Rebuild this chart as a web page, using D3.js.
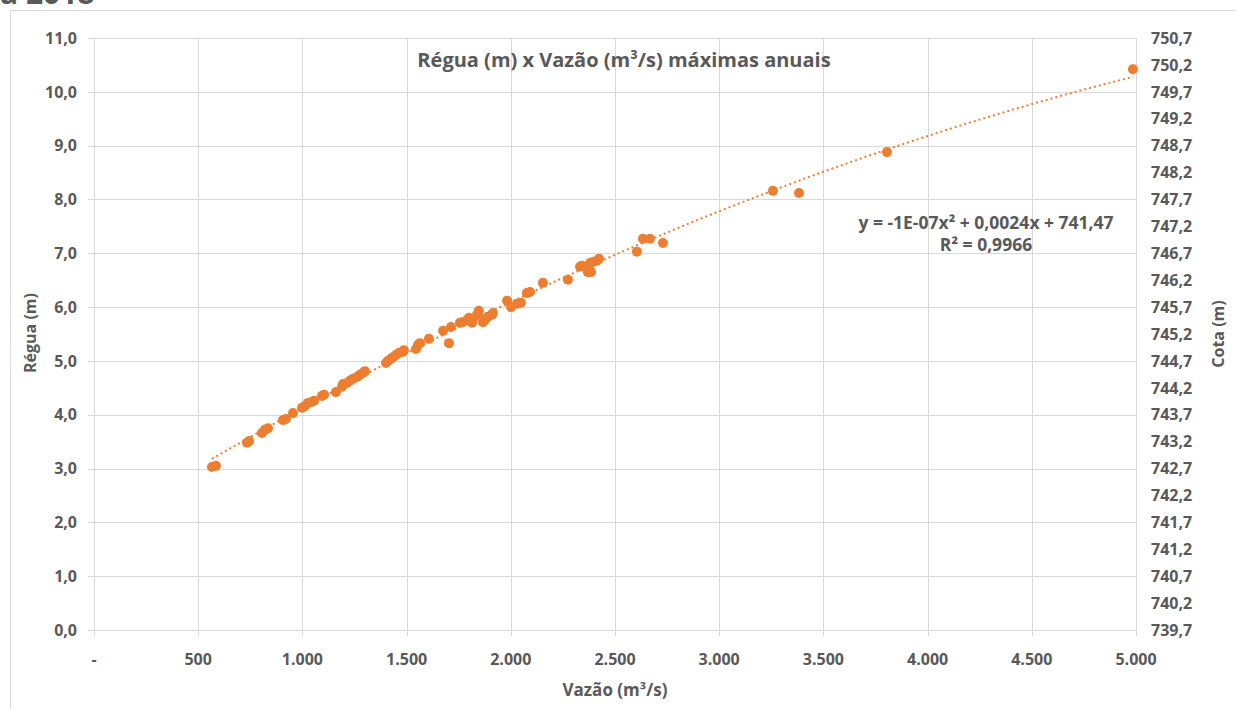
<!DOCTYPE html>
<html>
<head>
<meta charset="utf-8">
<script src="https://cdn.jsdelivr.net/npm/d3@7"></script>
<style>
  body { margin: 0; background: #fff; }
  text { font-family: "Open Sans", sans-serif; fill: #595959; font-weight: 700; }
</style>
</head>
<body>
<div id="chart"></div>
<script>
// data (vazão in m³/s, régua in m)
const vazao = [566, 585, 734, 744, 806, 820, 835, 907, 921, 955, 998, 1012, 1027, 1046, 1056, 1094, 1104, 1161,
  1190, 1195, 1214, 1228, 1243, 1262, 1276, 1291, 1300, 1401, 1411, 1425, 1435, 1449, 1464, 1483, 1487, 1545,
  1555, 1564, 1607, 1675, 1713, 1703, 1756, 1770, 1790, 1799, 1814, 1818, 1838, 1847, 1866, 1876, 1890, 1910,
  1914, 1982, 2001, 2030, 2049, 2077, 2092, 2154, 2274, 2332, 2341, 2370, 2385, 2380, 2394, 2413, 2423, 2605,
  2634, 2668, 2730, 3258, 3383, 3805, 4985];
const regua = [3.03, 3.05, 3.48, 3.51, 3.66, 3.72, 3.75, 3.90, 3.92, 4.03, 4.13, 4.16, 4.22, 4.24, 4.26, 4.35, 4.37, 4.42,
  4.52, 4.57, 4.59, 4.63, 4.67, 4.70, 4.74, 4.78, 4.81, 4.96, 5.00, 5.04, 5.07, 5.11, 5.15, 5.17, 5.20, 5.22,
  5.30, 5.33, 5.41, 5.56, 5.63, 5.33, 5.71, 5.72, 5.76, 5.80, 5.71, 5.78, 5.86, 5.93, 5.72, 5.76, 5.82, 5.86,
  5.89, 6.12, 6.00, 6.06, 6.08, 6.26, 6.28, 6.45, 6.51, 6.75, 6.77, 6.65, 6.65, 6.82, 6.84, 6.86, 6.90, 7.03,
  7.27, 7.27, 7.19, 8.16, 8.12, 8.88, 10.42];

const xTicks = [0, 500, 1000, 1500, 2000, 2500, 3000, 3500, 4000, 4500, 5000];
const yTicks = [0, 1, 2, 3, 4, 5, 6, 7, 8, 9, 10, 11];
const cotaOffset = 739.7; // cota = régua + 739,7
const cotaTicks = d3.range(0, 23).map(i => +(739.7 + i * 0.5).toFixed(1));

const titleText = "Régua (m) x Vazão (m³/s) máximas anuais";
const equationText = "y = -1E-07x² + 0,0024x + 741,47";
const r2Text = "R² = 0,9966";

const W = 1236, H = 709;
const plot = { left: 94, right: 1136, top: 38, bottom: 630 };
const grid = "#d9d9d9";
const orange = "#ed7d31";

const svg = d3.select("#chart").append("svg")
  .attr("width", W)
  .attr("height", H);

svg.append("rect").attr("width", W).attr("height", H).attr("fill", "#fff");

// heading above the chart frame, cut off by the page edge as in the source
svg.append("text")
  .attr("x", 0).attr("y", 4)
  .style("font-size", "30px")
  .text("a 2018");

// chart frame
svg.append("path")
  .attr("d", `M10.5,${H} V10.5 H${W}`)
  .attr("fill", "none")
  .attr("stroke", grid);

const x = d3.scaleLinear().domain([0, 5000]).range([plot.left, plot.right]);
const y = d3.scaleLinear().domain([0, 11]).range([plot.bottom, plot.top]);
const yCota = d3.scaleLinear().domain([cotaOffset, cotaOffset + 11]).range([plot.bottom, plot.top]);

const fmtPt = d3.formatLocale({ decimal: ",", thousands: ".", grouping: [3] });
const fmtX = v => v === 0 ? "-" : fmtPt.format(",.0f")(v);
const fmtY = fmtPt.format(".1f");

// gridlines
svg.append("g").selectAll("line.h")
  .data(yTicks).enter().append("line")
  .attr("x1", plot.left - 6).attr("x2", plot.right)
  .attr("y1", d => Math.round(y(d)) + 0.5).attr("y2", d => Math.round(y(d)) + 0.5)
  .attr("stroke", grid);

svg.append("g").selectAll("line.v")
  .data(xTicks).enter().append("line")
  .attr("x1", d => Math.round(x(d)) + 0.5).attr("x2", d => Math.round(x(d)) + 0.5)
  .attr("y1", plot.top).attr("y2", plot.bottom + 6)
  .attr("stroke", grid);

// left axis labels
svg.append("g").selectAll("text")
  .data(yTicks).enter().append("text")
  .attr("x", 77).attr("y", d => y(d)).attr("dy", "0.36em")
  .attr("text-anchor", "end")
  .style("font-size", "16px")
  .text(d => fmtY(d));

// right axis labels
svg.append("g").selectAll("text")
  .data(cotaTicks).enter().append("text")
  .attr("x", 1151).attr("y", d => yCota(d)).attr("dy", "0.36em")
  .style("font-size", "16px")
  .text(d => fmtY(d));

// bottom axis labels
svg.append("g").selectAll("text")
  .data(xTicks).enter().append("text")
  .attr("x", d => x(d)).attr("y", 665)
  .attr("text-anchor", "middle")
  .style("font-size", "16px")
  .text(d => fmtX(d));

// axis titles
svg.append("text")
  .attr("transform", `translate(36,333) rotate(-90)`)
  .attr("text-anchor", "middle")
  .style("font-size", "16px")
  .text("Régua (m)");

svg.append("text")
  .attr("transform", `translate(1224,334) rotate(-90)`)
  .attr("text-anchor", "middle")
  .style("font-size", "16px")
  .text("Cota (m)");

svg.append("text")
  .attr("x", 615).attr("y", 696)
  .attr("text-anchor", "middle")
  .style("font-size", "17px")
  .text("Vazão (m³/s)");

svg.append("text")
  .attr("x", 624).attr("y", 67)
  .attr("text-anchor", "middle")
  .style("font-size", "20px")
  .text(titleText);

// polynomial (order 2) trendline fitted to the points
const pts = vazao.map((v, i) => [v, regua[i]]);
function quadFit(p) {
  let s = [0, 0, 0, 0, 0], t = [0, 0, 0];
  p.forEach(([a, b]) => {
    const u = a / 1000;
    for (let k = 0; k < 5; k++) s[k] += Math.pow(u, k);
    for (let k = 0; k < 3; k++) t[k] += b * Math.pow(u, k);
  });
  const M = [[s[0], s[1], s[2], t[0]], [s[1], s[2], s[3], t[1]], [s[2], s[3], s[4], t[2]]];
  for (let i = 0; i < 3; i++) {
    for (let j = i + 1; j < 3; j++) {
      const f = M[j][i] / M[i][i];
      for (let k = i; k < 4; k++) M[j][k] -= f * M[i][k];
    }
  }
  const c = [0, 0, 0];
  for (let i = 2; i >= 0; i--) {
    let v = M[i][3];
    for (let k = i + 1; k < 3; k++) v -= M[i][k] * c[k];
    c[i] = v / M[i][i];
  }
  return q => { const u = q / 1000; return c[0] + c[1] * u + c[2] * u * u; };
}
const fit = quadFit(pts);
const [xmin, xmax] = d3.extent(vazao);
const trend = d3.range(xmin, xmax, 20).concat([xmax]).map(v => [v, fit(v)]);

svg.append("path")
  .datum(trend)
  .attr("d", d3.line().x(d => x(d[0])).y(d => y(d[1])))
  .attr("fill", "none")
  .attr("stroke", orange)
  .attr("stroke-width", 2)
  .attr("stroke-dasharray", "2,3");

// points
svg.append("g").selectAll("circle")
  .data(pts).enter().append("circle")
  .attr("cx", d => x(d[0]))
  .attr("cy", d => y(d[1]))
  .attr("r", 5)
  .attr("fill", orange);

// trendline label
svg.append("text")
  .attr("x", 986).attr("y", 229)
  .attr("text-anchor", "middle")
  .style("font-size", "17.5px")
  .text(equationText);

svg.append("text")
  .attr("x", 986).attr("y", 251)
  .attr("text-anchor", "middle")
  .style("font-size", "17.5px")
  .text(r2Text);
</script>
</body>
</html>
